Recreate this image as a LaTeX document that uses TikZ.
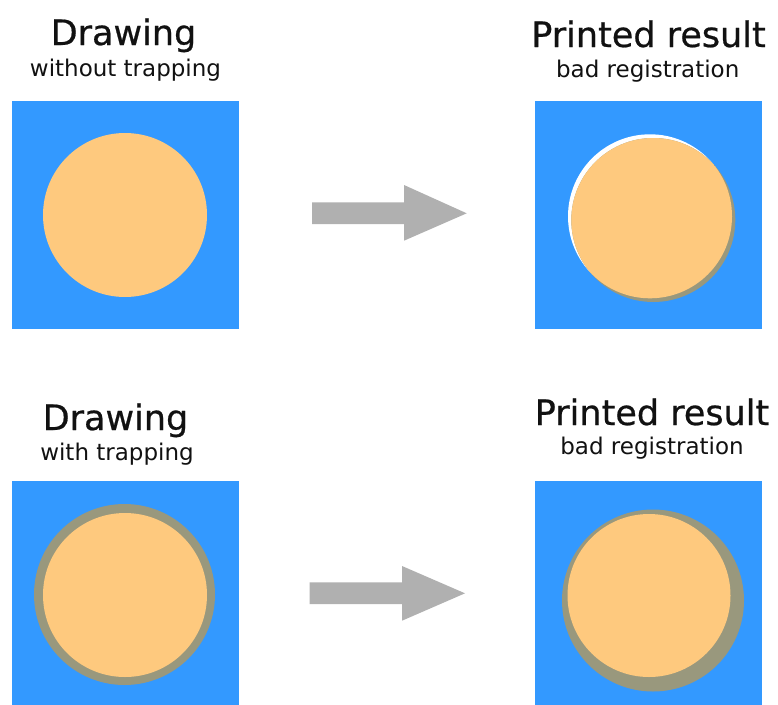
\documentclass[tikz,border=0pt]{standalone}
\usepackage{fontspec}
\setmainfont{DejaVu Sans}
\newfontfamily\titlefont[FakeBold=0.6]{DejaVu Sans}
\definecolor{skyblue}{RGB}{51,153,255}
\definecolor{peach}{RGB}{254,201,126}
\definecolor{trapbrown}{RGB}{153,152,125}
\definecolor{arrowgray}{RGB}{176,176,176}
\definecolor{inkdark}{RGB}{17,17,17}
\tikzset{
  title/.style={anchor=base, inner sep=0pt, text=inkdark, font=\titlefont\fontsize{35}{40}\selectfont},
  subtitle/.style={anchor=base, inner sep=0pt, text=inkdark, font=\fontsize{23}{27}\selectfont},
  bluesq/.style={rectangle, fill=skyblue, inner sep=0pt, minimum width=227pt},
  disc/.style={circle, inner sep=0pt, minimum size=#1},
  arrowfill/.style={fill=arrowgray}
}
\begin{document}
\begin{tikzpicture}[x=1pt,y=-1pt]
\useasboundingbox[fill=white] (0,0) rectangle (778,704);

% ---- top left: drawing without trapping
\node[title] (t1) at (123.5,45) {Drawing};
\node[subtitle] (t1s) at (125.5,76) {without trapping};
\node[bluesq, minimum height=228pt] (sq1) at (125.5,215) {};
\node[disc=164pt, fill=peach] (c1) at (125,215) {};

% ---- top right: printed, bad registration
\node[title] (t2) at (648.5,47) {Printed result};
\node[subtitle] (t2s) at (647.7,77) {bad registration};
\node[bluesq, minimum height=228pt] (sq2) at (648,215) {};
\node[disc=164pt, fill=white] (h2) at (650,216.3) {};
\node[disc=164pt, fill=trapbrown] (c2) at (653.3,220) {};
\begin{scope}
  \clip (h2.center) circle (82);
  \fill[peach] (c2.center) circle (82);
\end{scope}

% ---- bottom left: drawing with trapping
\node[title] (t3) at (115.5,430) {Drawing};
\node[subtitle] (t3s) at (117,460) {with trapping};
\node[bluesq, minimum height=225pt] (sq3) at (125.5,593.5) {};
\node[disc=181pt, fill=trapbrown] (r3) at (124.5,594.5) {};
\node[disc=164pt, fill=peach] (c3) at (125,595) {};

% ---- bottom right: printed, bad registration
\node[title] (t4) at (652,425) {Printed result};
\node[subtitle] (t4s) at (652,454) {bad registration};
\node[bluesq, minimum height=225pt] (sq4) at (648,593.5) {};
\node[disc=182pt, fill=trapbrown] (r4) at (653,600.5) {};
\begin{scope}
  \clip (r4.center) circle (91);
  \fill[peach] (649,595.5) circle (81.5);
\end{scope}

% ---- arrows
\fill[arrowfill] (312,202.3) -- (404,202.3) -- (404,185) -- (466.7,213.3)
  -- (404,240.7) -- (404,224) -- (312,224) -- cycle;
\fill[arrowfill] (309.5,582.3) -- (402,582.3) -- (402,566) -- (465,593.3)
  -- (402,620.7) -- (402,604) -- (309.5,604) -- cycle;
\end{tikzpicture}
\end{document}
